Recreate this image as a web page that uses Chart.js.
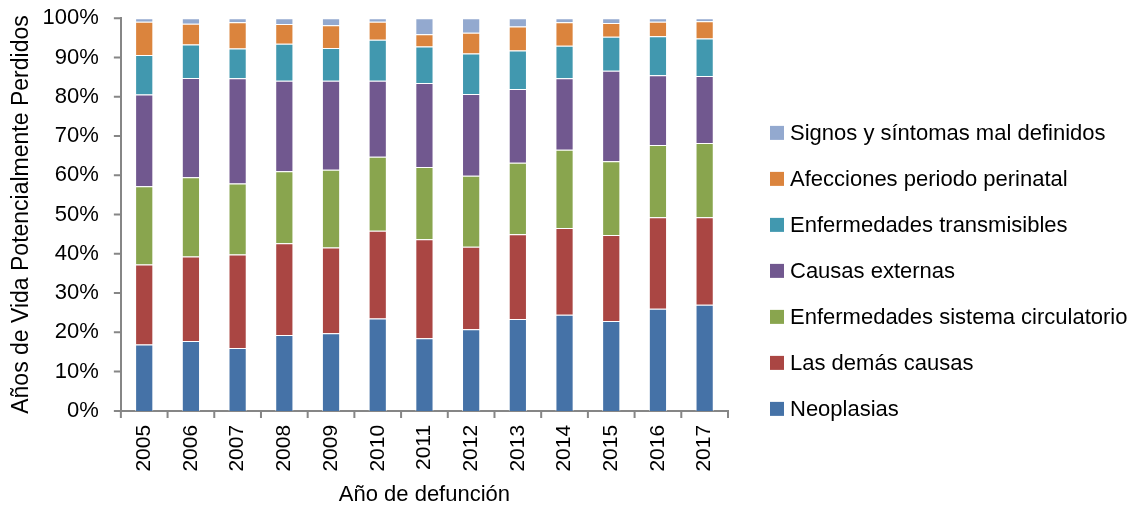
<!DOCTYPE html>
<html>
<head>
<meta charset="utf-8">
<script src="https://cdn.jsdelivr.net/npm/chart.js@4.4.1/dist/chart.umd.min.js"></script>
<style>
  body { margin: 0; background: #fff; }
  #wrap { width: 1131px; height: 512px; }
</style>
</head>
<body>
<div id="wrap"><canvas id="chartApvp"></canvas></div>
<script>
const YEARS = ["2005", "2006", "2007", "2008", "2009", "2010", "2011", "2012", "2013", "2014", "2015", "2016", "2017"];

const neoplasias     = [16.9, 17.8, 16.0, 19.3, 19.8, 23.5, 18.5, 20.8, 23.4, 24.5, 22.9, 26.0, 27.0];
const demasCausas    = [20.4, 21.5, 23.8, 23.4, 21.8, 22.4, 25.2, 21.0, 21.6, 22.1, 21.9, 23.3, 22.3];
const circulatorio   = [19.9, 20.2, 18.1, 18.3, 19.8, 18.8, 18.4, 18.1, 18.2, 19.9, 18.8, 18.4, 18.9];
const externas       = [23.4, 25.3, 26.8, 23.1, 22.7, 19.4, 21.4, 20.8, 18.8, 18.2, 23.0, 17.8, 17.1];
const transmisibles  = [10.0, 8.5, 7.6, 9.4, 8.3, 10.4, 9.3, 10.3, 9.8, 8.3, 8.7, 9.9, 9.5];
const perinatal      = [8.5, 5.3, 6.7, 5.0, 5.8, 4.6, 3.1, 5.3, 6.1, 6.0, 3.5, 3.7, 4.4];
const malDefinidos   = [0.9, 1.4, 1.0, 1.5, 1.8, 0.9, 4.1, 3.7, 2.1, 1.0, 1.2, 0.9, 0.8];

const FONT = "'Liberation Sans', Arial, sans-serif";
const AXIS_GREY = "#868686";

function serie(label, data, color) {
    return {
        label: label,
        data: data,
        backgroundColor: color,
        borderColor: "rgba(255,255,255,0.6)",
        borderWidth: 1,
        barPercentage: 0.39,
        categoryPercentage: 1.0,
    };
}

const ctx = document.getElementById("chartApvp").getContext("2d");

var chart = new Chart(ctx, {
    type: "bar",
    data: {
        labels: YEARS,
        datasets: [
            serie("Neoplasias", neoplasias, "#4572A7"),
            serie("Las demás causas", demasCausas, "#AA4643"),
            serie("Enfermedades sistema circulatorio", circulatorio, "#89A54E"),
            serie("Causas externas", externas, "#71588F"),
            serie("Enfermedades transmisibles", transmisibles, "#4198AF"),
            serie("Afecciones periodo perinatal", perinatal, "#DB843D"),
            serie("Signos y síntomas mal definidos", malDefinidos, "#93A9CF"),
        ],
    },
    options: {
        responsive: true,
        maintainAspectRatio: false,
        animation: false,
        layout: { padding: { left: 8, top: 13, right: 403, bottom: 4 } },
        plugins: {
            tooltip: { enabled: false },
            legend: { display: false },
        },
        scales: {
            x: {
                stacked: true,
                grid: { display: false },
                border: { color: AXIS_GREY, width: 2 },
                ticks: {
                    color: "#000",
                    font: { family: FONT, size: 21 },
                    minRotation: 90,
                    maxRotation: 90,
                    padding: 6,
                },
                title: {
                    display: true,
                    text: "Año de defunción",
                    color: "#000",
                    font: { family: FONT, size: 22 },
                    padding: { top: 4, bottom: 0 },
                },
            },
            y: {
                stacked: true,
                min: 0,
                max: 100,
                grid: { display: false, tickLength: 17 },
                border: { color: AXIS_GREY, width: 2 },
                ticks: {
                    stepSize: 10,
                    color: "#000",
                    font: { family: FONT, size: 22 },
                    padding: 5,
                    callback: (v) => v + "%",
                },
                title: {
                    display: true,
                    text: "Años de Vida Potencialmente Perdidos",
                    color: "#000",
                    font: { family: FONT, size: 23 },
                    padding: { top: 0, bottom: 2 },
                },
            },
        },
    },
    plugins: [{
        // outward tick marks like the spreadsheet original
        id: "axisTicks",
        afterDraw(c) {
            const g = c.ctx, xs = c.scales.x, ys = c.scales.y;
            g.save();
            g.strokeStyle = AXIS_GREY;
            g.lineWidth = 2;
            g.beginPath();
            const step = (xs.right - xs.left) / YEARS.length;
            for (let i = 0; i <= YEARS.length; i++) {
                const x = xs.left + i * step;
                g.moveTo(x, ys.bottom);
                g.lineTo(x, ys.bottom + 7);
            }
            for (let v = 0; v <= 100; v += 10) {
                const y = ys.getPixelForValue(v);
                g.moveTo(xs.left, y);
                g.lineTo(xs.left - 7, y);
            }
            g.stroke();
            g.restore();
        },
    }, {
        // legend on the right, bottom aligned with the plot, reversed order
        id: "sideLegend",
        afterDraw(c) {
            const g = c.ctx, area = c.chartArea;
            const sets = c.data.datasets;
            const x0 = area.right + 42;
            g.save();
            g.font = "22px " + FONT;
            g.textBaseline = "middle";
            for (let i = 0; i < sets.length; i++) {
                const yc = area.bottom - 2 - i * 46;
                g.fillStyle = sets[i].backgroundColor;
                g.fillRect(x0, yc - 7, 14, 14);
                g.fillStyle = "#000";
                g.fillText(sets[i].label, x0 + 20, yc + 1);
            }
            g.restore();
        },
    }],
});
</script>
</body>
</html>
